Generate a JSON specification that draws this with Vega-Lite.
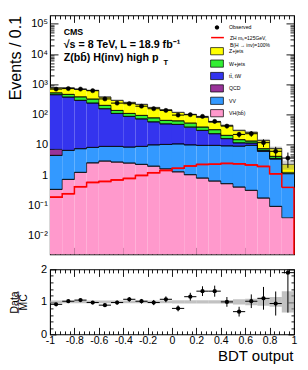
{
  "$schema": "https://vega.github.io/schema/vega-lite/v6.json",
  "background": "white",
  "padding": {"left": 6, "top": 14.4, "right": 5, "bottom": 5},
  "bounds": "flush",
  "spacing": 15,
  "config": {
    "view": {"stroke": "black", "strokeWidth": 1.1},
    "font": "Liberation Sans",
    "axis": {"domain": false, "grid": false, "tickColor": "black", "tickWidth": 0.9, "labelColor": "black", "titleColor": "black", "labelFont": "Liberation Sans", "titleFont": "Liberation Sans", "titleFontWeight": "normal", "labelOverlap": false, "labelFlush": false, "labelBound": false, "minExtent": 0, "maxExtent": 200},
    "legend": {"labelFont": "Liberation Sans", "labelFontSize": 5.2, "labelColor": "black", "labelOffset": 7.5, "symbolSize": 64, "title": null, "orient": "none"}
  },
  "datasets": {
    "bins": [
      {"lo": -1, "hi": -0.9, "c": -0.95, "d": 694, "dl": 668, "dh": 720, "s": 0.187, "ml": 730, "mh": 790, "r": 0.925, "rl": 0.89, "rh": 0.96, "bl": 0.96, "bh": 1.04},
      {"lo": -0.9, "hi": -0.8, "c": -0.85, "d": 721, "dl": 694, "dh": 748, "s": 0.243, "ml": 730, "mh": 790, "r": 1.02, "rl": 0.985, "rh": 1.055, "bl": 0.96, "bh": 1.04},
      {"lo": -0.8, "hi": -0.7, "c": -0.75, "d": 694, "dl": 668, "dh": 720, "s": 0.414, "ml": 651, "mh": 705, "r": 1.055, "rl": 1.02, "rh": 1.09, "bl": 0.96, "bh": 1.04},
      {"lo": -0.7, "hi": -0.6, "c": -0.65, "d": 614, "dl": 589, "dh": 639, "s": 0.574, "ml": 604, "mh": 654, "r": 0.98, "rl": 0.94, "rh": 1.02, "bl": 0.96, "bh": 1.04},
      {"lo": -0.6, "hi": -0.5, "c": -0.55, "d": 329, "dl": 311, "dh": 347, "s": 0.619, "ml": 363, "mh": 393, "r": 0.90, "rl": 0.85, "rh": 0.95, "bl": 0.96, "bh": 1.04},
      {"lo": -0.5, "hi": -0.4, "c": -0.45, "d": 239, "dl": 224, "dh": 254, "s": 0.695, "ml": 282, "mh": 306, "r": 0.98, "rl": 0.92, "rh": 1.04, "bl": 0.96, "bh": 1.04},
      {"lo": -0.4, "hi": -0.3, "c": -0.35, "d": 229, "dl": 214, "dh": 244, "s": 0.778, "ml": 242, "mh": 262, "r": 1.08, "rl": 1.01, "rh": 1.15, "bl": 0.96, "bh": 1.04},
      {"lo": -0.3, "hi": -0.2, "c": -0.25, "d": 189, "dl": 175, "dh": 203, "s": 0.977, "ml": 208, "mh": 226, "r": 1.02, "rl": 0.95, "rh": 1.09, "bl": 0.96, "bh": 1.04},
      {"lo": -0.2, "hi": -0.1, "c": -0.15, "d": 156, "dl": 144, "dh": 168, "s": 1.20, "ml": 165, "mh": 179, "r": 0.98, "rl": 0.90, "rh": 1.06, "bl": 0.96, "bh": 1.04},
      {"lo": -0.1, "hi": 0, "c": -0.05, "d": 137, "dl": 125, "dh": 149, "s": 1.43, "ml": 137, "mh": 149, "r": 1.08, "rl": 0.99, "rh": 1.17, "bl": 0.96, "bh": 1.04},
      {"lo": 0, "hi": 0.1, "c": 0.05, "d": 96, "dl": 86, "dh": 106, "s": 1.67, "ml": 112, "mh": 124, "r": 0.80, "rl": 0.71, "rh": 0.89, "bl": 0.95, "bh": 1.05},
      {"lo": 0.1, "hi": 0.2, "c": 0.15, "d": 99, "dl": 89, "dh": 109, "s": 2.01, "ml": 96, "mh": 106, "r": 1.16, "rl": 1.04, "rh": 1.28, "bl": 0.95, "bh": 1.05},
      {"lo": 0.2, "hi": 0.3, "c": 0.25, "d": 87, "dl": 78, "dh": 96, "s": 2.26, "ml": 76.5, "mh": 84.5, "r": 1.33, "rl": 1.18, "rh": 1.48, "bl": 0.95, "bh": 1.05},
      {"lo": 0.3, "hi": 0.4, "c": 0.35, "d": 59.4, "dl": 51.7, "dh": 67.1, "s": 2.29, "ml": 53.6, "mh": 59.2, "r": 1.33, "rl": 1.16, "rh": 1.50, "bl": 0.95, "bh": 1.05},
      {"lo": 0.4, "hi": 0.5, "c": 0.45, "d": 41.6, "dl": 35.2, "dh": 48.0, "s": 2.44, "ml": 41.3, "mh": 46.5, "r": 1.0, "rl": 0.85, "rh": 1.15, "bl": 0.94, "bh": 1.06},
      {"lo": 0.5, "hi": 0.6, "c": 0.55, "d": 22.1, "dl": 17.4, "dh": 26.8, "s": 2.35, "ml": 27.6, "mh": 32.4, "r": 0.70, "rl": 0.55, "rh": 0.85, "bl": 0.92, "bh": 1.08},
      {"lo": 0.6, "hi": 0.7, "c": 0.65, "d": 23.3, "dl": 18.5, "dh": 28.1, "s": 2.17, "ml": 23.2, "mh": 28.4, "r": 1.02, "rl": 0.81, "rh": 1.23, "bl": 0.90, "bh": 1.10},
      {"lo": 0.7, "hi": 0.8, "c": 0.75, "d": 11.8, "dl": 8.4, "dh": 15.2, "s": 1.94, "ml": 12.3, "mh": 15.7, "r": 1.11, "rl": 0.76, "rh": 1.46, "bl": 0.88, "bh": 1.12},
      {"lo": 0.8, "hi": 0.9, "c": 0.85, "d": 6.1, "dl": 3.6, "dh": 8.6, "s": 1.10, "ml": 6.46, "mh": 8.74, "r": 0.95, "rl": 0.58, "rh": 1.32, "bl": 0.85, "bh": 1.15},
      {"lo": 0.9, "hi": 1, "c": 0.95, "d": 3.65, "dl": 1.74, "dh": 5.56, "s": 0.393, "ml": 1.51, "mh": 3.01, "r": 1.90, "rl": 0.67, "rh": 2.9, "bl": 0.67, "bh": 1.33}
    ],
    "stack": [
      {"lo": -1, "hi": -0.9, "p": "VH", "o": 0, "v": 0.337}, {"lo": -1, "hi": -0.9, "p": "VV", "o": 1, "v": 4.14}, {"lo": -1, "hi": -0.9, "p": "QCD", "o": 2, "v": 2.59}, {"lo": -1, "hi": -0.9, "p": "tt", "o": 3, "v": 446}, {"lo": -1, "hi": -0.9, "p": "W", "o": 4, "v": 67}, {"lo": -1, "hi": -0.9, "p": "Z", "o": 5, "v": 240},
      {"lo": -0.9, "hi": -0.8, "p": "VH", "o": 0, "v": 0.721}, {"lo": -0.9, "hi": -0.8, "p": "VV", "o": 1, "v": 5.83}, {"lo": -0.9, "hi": -0.8, "p": "tt", "o": 3, "v": 371}, {"lo": -0.9, "hi": -0.8, "p": "W", "o": 4, "v": 86}, {"lo": -0.9, "hi": -0.8, "p": "Z", "o": 5, "v": 296},
      {"lo": -0.8, "hi": -0.7, "p": "VH", "o": 0, "v": 1.23}, {"lo": -0.8, "hi": -0.7, "p": "VV", "o": 1, "v": 6.22}, {"lo": -0.8, "hi": -0.7, "p": "tt", "o": 3, "v": 287}, {"lo": -0.8, "hi": -0.7, "p": "W", "o": 4, "v": 89}, {"lo": -0.8, "hi": -0.7, "p": "Z", "o": 5, "v": 295},
      {"lo": -0.7, "hi": -0.6, "p": "VH", "o": 0, "v": 2.53}, {"lo": -0.7, "hi": -0.6, "p": "VV", "o": 1, "v": 5.69}, {"lo": -0.7, "hi": -0.6, "p": "tt", "o": 3, "v": 231}, {"lo": -0.7, "hi": -0.6, "p": "W", "o": 4, "v": 85}, {"lo": -0.7, "hi": -0.6, "p": "Z", "o": 5, "v": 305},
      {"lo": -0.6, "hi": -0.5, "p": "VH", "o": 0, "v": 2.9}, {"lo": -0.6, "hi": -0.5, "p": "VV", "o": 1, "v": 5.97}, {"lo": -0.6, "hi": -0.5, "p": "tt", "o": 3, "v": 147}, {"lo": -0.6, "hi": -0.5, "p": "W", "o": 4, "v": 45}, {"lo": -0.6, "hi": -0.5, "p": "Z", "o": 5, "v": 177},
      {"lo": -0.5, "hi": -0.4, "p": "VH", "o": 0, "v": 2.69}, {"lo": -0.5, "hi": -0.4, "p": "VV", "o": 1, "v": 6.18}, {"lo": -0.5, "hi": -0.4, "p": "tt", "o": 3, "v": 100}, {"lo": -0.5, "hi": -0.4, "p": "W", "o": 4, "v": 28}, {"lo": -0.5, "hi": -0.4, "p": "Z", "o": 5, "v": 157},
      {"lo": -0.4, "hi": -0.3, "p": "VH", "o": 0, "v": 2.49}, {"lo": -0.4, "hi": -0.3, "p": "VV", "o": 1, "v": 5.92}, {"lo": -0.4, "hi": -0.3, "p": "tt", "o": 3, "v": 78.6}, {"lo": -0.4, "hi": -0.3, "p": "W", "o": 4, "v": 22}, {"lo": -0.4, "hi": -0.3, "p": "Z", "o": 5, "v": 143},
      {"lo": -0.3, "hi": -0.2, "p": "VH", "o": 0, "v": 2.26}, {"lo": -0.3, "hi": -0.2, "p": "VV", "o": 1, "v": 6.61}, {"lo": -0.3, "hi": -0.2, "p": "tt", "o": 3, "v": 63}, {"lo": -0.3, "hi": -0.2, "p": "W", "o": 4, "v": 21.9}, {"lo": -0.3, "hi": -0.2, "p": "Z", "o": 5, "v": 123},
      {"lo": -0.2, "hi": -0.1, "p": "VH", "o": 0, "v": 1.97}, {"lo": -0.2, "hi": -0.1, "p": "VV", "o": 1, "v": 7.98}, {"lo": -0.2, "hi": -0.1, "p": "tt", "o": 3, "v": 47.4}, {"lo": -0.2, "hi": -0.1, "p": "W", "o": 4, "v": 20.3}, {"lo": -0.2, "hi": -0.1, "p": "Z", "o": 5, "v": 94},
      {"lo": -0.1, "hi": 0, "p": "VH", "o": 0, "v": 1.6}, {"lo": -0.1, "hi": 0, "p": "VV", "o": 1, "v": 8.7}, {"lo": -0.1, "hi": 0, "p": "tt", "o": 3, "v": 38.9}, {"lo": -0.1, "hi": 0, "p": "W", "o": 4, "v": 15}, {"lo": -0.1, "hi": 0, "p": "Z", "o": 5, "v": 79},
      {"lo": 0, "hi": 0.1, "p": "VH", "o": 0, "v": 1.28}, {"lo": 0, "hi": 0.1, "p": "VV", "o": 1, "v": 9.42}, {"lo": 0, "hi": 0.1, "p": "tt", "o": 3, "v": 36.6}, {"lo": 0, "hi": 0.1, "p": "W", "o": 4, "v": 14.5}, {"lo": 0, "hi": 0.1, "p": "Z", "o": 5, "v": 56},
      {"lo": 0.1, "hi": 0.2, "p": "VH", "o": 0, "v": 1.03}, {"lo": 0.1, "hi": 0.2, "p": "VV", "o": 1, "v": 8.92}, {"lo": 0.1, "hi": 0.2, "p": "tt", "o": 3, "v": 28.5}, {"lo": 0.1, "hi": 0.2, "p": "W", "o": 4, "v": 13.7}, {"lo": 0.1, "hi": 0.2, "p": "Z", "o": 5, "v": 49},
      {"lo": 0.2, "hi": 0.3, "p": "VH", "o": 0, "v": 0.796}, {"lo": 0.2, "hi": 0.3, "p": "VV", "o": 1, "v": 8.78}, {"lo": 0.2, "hi": 0.3, "p": "tt", "o": 3, "v": 20.4}, {"lo": 0.2, "hi": 0.3, "p": "W", "o": 4, "v": 8.5}, {"lo": 0.2, "hi": 0.3, "p": "Z", "o": 5, "v": 42},
      {"lo": 0.3, "hi": 0.4, "p": "VH", "o": 0, "v": 0.634}, {"lo": 0.3, "hi": 0.4, "p": "VV", "o": 1, "v": 8.95}, {"lo": 0.3, "hi": 0.4, "p": "tt", "o": 3, "v": 13.7}, {"lo": 0.3, "hi": 0.4, "p": "W", "o": 4, "v": 8.3}, {"lo": 0.3, "hi": 0.4, "p": "Z", "o": 5, "v": 24.8},
      {"lo": 0.4, "hi": 0.5, "p": "VH", "o": 0, "v": 0.52}, {"lo": 0.4, "hi": 0.5, "p": "VV", "o": 1, "v": 8.7}, {"lo": 0.4, "hi": 0.5, "p": "tt", "o": 3, "v": 6.8}, {"lo": 0.4, "hi": 0.5, "p": "W", "o": 4, "v": 4.5}, {"lo": 0.4, "hi": 0.5, "p": "Z", "o": 5, "v": 23.4},
      {"lo": 0.5, "hi": 0.6, "p": "VH", "o": 0, "v": 0.402}, {"lo": 0.5, "hi": 0.6, "p": "VV", "o": 1, "v": 8.6}, {"lo": 0.5, "hi": 0.6, "p": "tt", "o": 3, "v": 2.6}, {"lo": 0.5, "hi": 0.6, "p": "W", "o": 4, "v": 3.2}, {"lo": 0.5, "hi": 0.6, "p": "Z", "o": 5, "v": 15.2},
      {"lo": 0.6, "hi": 0.7, "p": "VH", "o": 0, "v": 0.313}, {"lo": 0.6, "hi": 0.7, "p": "VV", "o": 1, "v": 9.29}, {"lo": 0.6, "hi": 0.7, "p": "tt", "o": 3, "v": 1.8}, {"lo": 0.6, "hi": 0.7, "p": "W", "o": 4, "v": 1.9}, {"lo": 0.6, "hi": 0.7, "p": "Z", "o": 5, "v": 12.5},
      {"lo": 0.7, "hi": 0.8, "p": "VH", "o": 0, "v": 0.174}, {"lo": 0.7, "hi": 0.8, "p": "VV", "o": 1, "v": 5.9}, {"lo": 0.7, "hi": 0.8, "p": "tt", "o": 3, "v": 0.48}, {"lo": 0.7, "hi": 0.8, "p": "W", "o": 4, "v": 0.9}, {"lo": 0.7, "hi": 0.8, "p": "Z", "o": 5, "v": 6.55},
      {"lo": 0.8, "hi": 0.9, "p": "VH", "o": 0, "v": 0.0925}, {"lo": 0.8, "hi": 0.9, "p": "VV", "o": 1, "v": 3.29}, {"lo": 0.8, "hi": 0.9, "p": "tt", "o": 3, "v": 0.18}, {"lo": 0.8, "hi": 0.9, "p": "W", "o": 4, "v": 0.59}, {"lo": 0.8, "hi": 0.9, "p": "Z", "o": 5, "v": 3.45},
      {"lo": 0.9, "hi": 1, "p": "VH", "o": 0, "v": 0.039}, {"lo": 0.9, "hi": 1, "p": "VV", "o": 1, "v": 1.06}, {"lo": 0.9, "hi": 1, "p": "tt", "o": 3, "v": 0.04}, {"lo": 0.9, "hi": 1, "p": "W", "o": 4, "v": 0.09}, {"lo": 0.9, "hi": 1, "p": "Z", "o": 5, "v": 1.03}
    ]
  },
  "vconcat": [
    {
      "width": 244,
      "height": 239,
      "layer": [
        {
          "data": {"name": "stack"},
          "transform": [{"stack": "v", "groupby": ["lo"], "sort": [{"field": "o", "order": "ascending"}], "as": ["y0", "y1"]}],
          "mark": {"type": "rect", "clip": true},
          "encoding": {
            "x": {"field": "lo", "type": "quantitative", "scale": {"domain": [-1, 1], "nice": false, "zero": false}, "axis": {"orient": "bottom", "values": [-1, -0.8, -0.6, -0.4, -0.2, 0, 0.2, 0.4, 0.6, 0.8, 1], "tickSize": -7, "labels": false, "title": null}},
            "x2": {"field": "hi"},
            "y": {"field": "y1", "type": "quantitative", "scale": {"type": "log", "domain": [0.0024, 189000], "nice": false, "clamp": true}, "axis": {"orient": "left", "values": [0.01, 0.1, 1, 10, 100, 1000, 10000, 100000], "tickSize": -8, "labelPadding": 10.5, "labelFontSize": 11, "labelExpr": "datum.value > 50000 ? '10⁵' : datum.value > 5000 ? '10⁴' : datum.value > 500 ? '10³' : datum.value > 50 ? '10²' : datum.value > 5 ? '10' : datum.value > 0.5 ? '1' : datum.value > 0.05 ? '10⁻¹' : '10⁻²'", "title": "Events / 0.1", "titleFontSize": 16, "titleAnchor": "end", "titleAngle": 270, "titleBaseline": "bottom", "titleX": -27, "titleY": 0}},
            "y2": {"field": "y0"},
            "fill": {"field": "p", "type": "nominal", "scale": {"domain": ["Z", "W", "tt", "QCD", "VV", "VH"], "range": ["#ffff00", "#33ee33", "#3434ee", "#993399", "#3399ff", "#ff99cc"]},
              "legend": {"orient": "none", "legendX": 162.5, "legendY": 31.3, "title": null, "symbolType": "M-1.6,-0.9H1.6V0.9H-1.6Z", "symbolSize": 64, "symbolStrokeColor": "black", "symbolStrokeWidth": 0.7, "symbolOpacity": 1, "rowPadding": 1.4,
                "labelExpr": "datum.value == 'Z' ? 'Z+jets' : datum.value == 'W' ? 'W+jets' : datum.value == 'tt' ? 'tt̄, tW' : datum.value == 'VH' ? 'VH(bb̄)' : datum.value"}}
          }
        },
        {
          "data": {"name": "stack"},
          "transform": [{"stack": "v", "groupby": ["lo"], "sort": [{"field": "o", "order": "ascending"}], "as": ["y0", "y1"]}],
          "mark": {"type": "rule", "color": "black", "strokeWidth": 0.7},
          "encoding": {
            "x": {"field": "lo", "type": "quantitative", "axis": {"orient": "bottom", "values": [-0.96, -0.92, -0.88, -0.84, -0.76, -0.72, -0.68, -0.64, -0.56, -0.52, -0.48, -0.44, -0.36, -0.32, -0.28, -0.24, -0.16, -0.12, -0.08, -0.04, 0.04, 0.08, 0.12, 0.16, 0.24, 0.28, 0.32, 0.36, 0.44, 0.48, 0.52, 0.56, 0.64, 0.68, 0.72, 0.76, 0.84, 0.88, 0.92, 0.96], "tickSize": -3.5, "labels": false, "title": null}},
            "x2": {"field": "hi"},
            "y": {"field": "y1", "type": "quantitative", "axis": {"orient": "left", "values": [0.003, 0.004, 0.005, 0.006, 0.007, 0.008, 0.009, 0.02, 0.03, 0.04, 0.05, 0.06, 0.07, 0.08, 0.09, 0.2, 0.3, 0.4, 0.5, 0.6, 0.7, 0.8, 0.9, 2, 3, 4, 5, 6, 7, 8, 9, 20, 30, 40, 50, 60, 70, 80, 90, 200, 300, 400, 500, 600, 700, 800, 900, 2000, 3000, 4000, 5000, 6000, 7000, 8000, 9000, 20000, 30000, 40000, 50000, 60000, 70000, 80000, 90000], "tickSize": -4, "labels": false, "title": null}}
          }
        },
        {
          "data": {"name": "stack"},
          "transform": [{"stack": "v", "groupby": ["lo"], "sort": [{"field": "o", "order": "ascending"}], "as": ["y0", "y1"]}],
          "mark": {"type": "line", "interpolate": "step-after", "color": "black", "strokeWidth": 0.7},
          "encoding": {
            "x": {"field": "lo", "type": "quantitative", "axis": {"orient": "top", "values": [-1, -0.8, -0.6, -0.4, -0.2, 0, 0.2, 0.4, 0.6, 0.8, 1], "tickSize": -7, "labels": false, "title": null}},
            "y": {"field": "y1", "type": "quantitative", "axis": {"orient": "right", "values": [0.01, 0.1, 1, 10, 100, 1000, 10000, 100000], "tickSize": -8, "labels": false, "title": null}},
            "detail": {"field": "p"}
          }
        },
        {
          "data": {"name": "bins"},
          "mark": {"type": "rect", "fill": "#808080", "opacity": 0.35},
          "encoding": {
            "x": {"field": "lo", "type": "quantitative", "axis": {"orient": "top", "values": [-0.96, -0.92, -0.88, -0.84, -0.76, -0.72, -0.68, -0.64, -0.56, -0.52, -0.48, -0.44, -0.36, -0.32, -0.28, -0.24, -0.16, -0.12, -0.08, -0.04, 0.04, 0.08, 0.12, 0.16, 0.24, 0.28, 0.32, 0.36, 0.44, 0.48, 0.52, 0.56, 0.64, 0.68, 0.72, 0.76, 0.84, 0.88, 0.92, 0.96], "tickSize": -3.5, "labels": false, "title": null}},
            "x2": {"field": "hi"},
            "y": {"field": "ml", "type": "quantitative", "axis": {"orient": "right", "values": [0.003, 0.004, 0.005, 0.006, 0.007, 0.008, 0.009, 0.02, 0.03, 0.04, 0.05, 0.06, 0.07, 0.08, 0.09, 0.2, 0.3, 0.4, 0.5, 0.6, 0.7, 0.8, 0.9, 2, 3, 4, 5, 6, 7, 8, 9, 20, 30, 40, 50, 60, 70, 80, 90, 200, 300, 400, 500, 600, 700, 800, 900, 2000, 3000, 4000, 5000, 6000, 7000, 8000, 9000, 20000, 30000, 40000, 50000, 60000, 70000, 80000, 90000], "tickSize": -4, "labels": false, "title": null}},
            "y2": {"field": "mh"}
          }
        },
        {
          "data": {"name": "bins"},
          "mark": {"type": "line", "interpolate": "step-after", "strokeWidth": 1.5},
          "encoding": {
            "x": {"field": "lo", "type": "quantitative", "axis": null},
            "y": {"field": "s", "type": "quantitative", "axis": null},
            "stroke": {"datum": "ZH", "type": "nominal", "scale": {"domain": ["ZH"], "range": ["#ff0000"]},
              "legend": {"orient": "none", "legendX": 162.5, "legendY": 17.2, "title": null, "symbolType": "M-1.6,0H1.6", "symbolSize": 64, "symbolStrokeWidth": 1.5, "symbolStrokeColor": "#ff0000", "symbolOpacity": 1, "labelFontSize": 5,
                "labelExpr": "['ZH mₕ=125GeV,', 'B(H → inv)=100%']"}}
          }
        },
        {
          "data": {"name": "bins"},
          "mark": {"type": "rule", "color": "#ff0000", "strokeWidth": 1.5},
          "encoding": {
            "x": {"field": "lo", "type": "quantitative", "axis": null},
            "x2": {"field": "hi"},
            "y": {"field": "s", "type": "quantitative", "axis": null}
          }
        },
        {
          "data": {"name": "bins"},
          "transform": [{"filter": "datum.hi > 0.99"}],
          "mark": {"type": "rule", "color": "#ff0000", "strokeWidth": 1.5},
          "encoding": {
            "x": {"field": "hi", "type": "quantitative", "axis": null},
            "y": {"field": "s", "type": "quantitative", "axis": null},
            "y2": {"datum": 0.0024}
          }
        },
        {
          "data": {"name": "bins"},
          "mark": {"type": "rule", "color": "black", "strokeWidth": 1},
          "encoding": {
            "x": {"field": "lo", "type": "quantitative", "axis": null},
            "x2": {"field": "hi"},
            "y": {"field": "d", "type": "quantitative", "axis": null}
          }
        },
        {
          "data": {"name": "bins"},
          "mark": {"type": "rule", "color": "black", "strokeWidth": 1},
          "encoding": {
            "x": {"field": "c", "type": "quantitative", "axis": null},
            "y": {"field": "dl", "type": "quantitative", "axis": null},
            "y2": {"field": "dh"}
          }
        },
        {
          "data": {"name": "bins"},
          "mark": {"type": "point", "filled": true, "fill": "black", "stroke": "black", "size": 18, "strokeWidth": 0.5},
          "encoding": {
            "x": {"field": "c", "type": "quantitative", "axis": null},
            "y": {"field": "d", "type": "quantitative", "axis": null},
            "opacity": {"datum": "Observed", "type": "ordinal", "scale": {"domain": ["Observed"], "range": [1]},
              "legend": {"orient": "none", "legendX": 162.5, "legendY": 7.5, "title": null, "symbolType": "M-1.6,0H1.6M0.55,0A0.55,0.55,0,1,1,-0.55,0A0.55,0.55,0,1,1,0.55,0Z", "symbolSize": 64, "symbolFillColor": "black", "symbolStrokeColor": "black", "symbolStrokeWidth": 1}}
          }
        },
        {
          "data": {"values": [{}]},
          "mark": {"type": "text", "align": "left", "baseline": "middle", "fontSize": 8.8, "fontWeight": "bold", "font": "Liberation Sans", "color": "black"},
          "encoding": {"x": {"datum": -0.888, "type": "quantitative", "axis": null}, "y": {"datum": 53800, "type": "quantitative", "axis": null}, "text": {"value": "CMS"}}
        },
        {
          "data": {"values": [{}]},
          "mark": {"type": "text", "align": "left", "baseline": "middle", "fontSize": 10.7, "fontWeight": "bold", "font": "Liberation Sans", "color": "black"},
          "encoding": {"x": {"datum": -0.888, "type": "quantitative", "axis": null}, "y": {"datum": 20000, "type": "quantitative", "axis": null}, "text": {"value": "√s = 8 TeV, L = 18.9 fb⁻¹"}}
        },
        {
          "data": {"values": [{}]},
          "mark": {"type": "text", "align": "left", "baseline": "middle", "fontSize": 10.7, "fontWeight": "bold", "font": "Liberation Sans", "color": "black"},
          "encoding": {"x": {"datum": -0.888, "type": "quantitative", "axis": null}, "y": {"datum": 7160, "type": "quantitative", "axis": null}, "text": {"value": "Z(bb̄) H(inv)  high p"}}
        },
        {
          "data": {"values": [{}]},
          "mark": {"type": "text", "align": "left", "baseline": "middle", "fontSize": 7.5, "fontWeight": "bold", "font": "Liberation Sans", "color": "black"},
          "encoding": {"x": {"datum": -0.07, "type": "quantitative", "axis": null}, "y": {"datum": 5000, "type": "quantitative", "axis": null}, "text": {"value": "T"}}
        }
      ],
      "resolve": {"axis": {"x": "independent", "y": "independent"}}
    },
    {
      "width": 244,
      "height": 65,
      "data": {"name": "bins"},
      "layer": [
        {
          "mark": {"type": "rect", "fill": "#999999", "opacity": 0.6, "clip": true},
          "encoding": {
            "x": {"field": "lo", "type": "quantitative", "scale": {"domain": [-1, 1], "nice": false, "zero": false}, "axis": {"orient": "bottom", "values": [-1, -0.8, -0.6, -0.4, -0.2, 0, 0.2, 0.4, 0.6, 0.8, 1], "tickSize": -7, "labelPadding": 8, "labelFontSize": 10.5, "labelExpr": "toString(round(datum.value*10)/10)", "title": "BDT output", "titleFontSize": 15, "titleAnchor": "end", "titleAlign": "right", "titleBaseline": "alphabetic", "titleX": 243, "titleY": 26}},
            "x2": {"field": "hi"},
            "y": {"field": "bl", "type": "quantitative", "scale": {"domain": [0, 2], "nice": false, "zero": false}, "axis": {"orient": "left", "values": [0, 1, 2], "tickSize": -6, "labelPadding": 9.5, "labelFontSize": 11, "labelExpr": "toString(datum.value)", "title": ["D̲a̲t̲a̲", "MC"], "titleFontSize": 10.5, "titleLineHeight": 10, "titleAngle": 270, "titleBaseline": "bottom", "titleX": -31}},
            "y2": {"field": "bh"}
          }
        },
        {
          "mark": {"type": "rule", "color": "black", "strokeWidth": 1, "clip": true},
          "encoding": {
            "x": {"field": "lo", "type": "quantitative", "axis": {"orient": "bottom", "values": [-0.96, -0.92, -0.88, -0.84, -0.76, -0.72, -0.68, -0.64, -0.56, -0.52, -0.48, -0.44, -0.36, -0.32, -0.28, -0.24, -0.16, -0.12, -0.08, -0.04, 0.04, 0.08, 0.12, 0.16, 0.24, 0.28, 0.32, 0.36, 0.44, 0.48, 0.52, 0.56, 0.64, 0.68, 0.72, 0.76, 0.84, 0.88, 0.92, 0.96], "tickSize": -3.5, "labels": false, "title": null}},
            "x2": {"field": "hi"},
            "y": {"field": "r", "type": "quantitative", "axis": {"orient": "left", "values": [0.2, 0.4, 0.6, 0.8, 1.2, 1.4, 1.6, 1.8], "tickSize": -3, "labels": false, "title": null}}
          }
        },
        {
          "mark": {"type": "rule", "color": "black", "strokeWidth": 1, "clip": true},
          "encoding": {
            "x": {"field": "c", "type": "quantitative", "axis": {"orient": "top", "values": [-1, -0.8, -0.6, -0.4, -0.2, 0, 0.2, 0.4, 0.6, 0.8, 1], "tickSize": -7, "labels": false, "title": null}},
            "y": {"field": "rl", "type": "quantitative", "axis": {"orient": "right", "values": [0, 1, 2], "tickSize": -6, "labels": false, "title": null}},
            "y2": {"field": "rh"}
          }
        },
        {
          "mark": {"type": "point", "filled": true, "fill": "black", "color": "black", "size": 18, "opacity": 1, "clip": true},
          "encoding": {
            "x": {"field": "c", "type": "quantitative", "axis": {"orient": "top", "values": [-0.96, -0.92, -0.88, -0.84, -0.76, -0.72, -0.68, -0.64, -0.56, -0.52, -0.48, -0.44, -0.36, -0.32, -0.28, -0.24, -0.16, -0.12, -0.08, -0.04, 0.04, 0.08, 0.12, 0.16, 0.24, 0.28, 0.32, 0.36, 0.44, 0.48, 0.52, 0.56, 0.64, 0.68, 0.72, 0.76, 0.84, 0.88, 0.92, 0.96], "tickSize": -3.5, "labels": false, "title": null}},
            "y": {"field": "r", "type": "quantitative", "axis": {"orient": "right", "values": [0.2, 0.4, 0.6, 0.8, 1.2, 1.4, 1.6, 1.8], "tickSize": -3, "labels": false, "title": null}}
          }
        }
      ],
      "resolve": {"axis": {"x": "independent", "y": "independent"}}
    }
  ]
}
